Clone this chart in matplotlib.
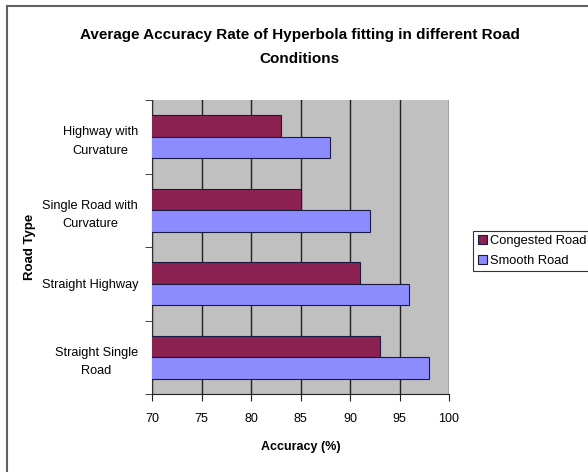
import numpy as np
import matplotlib.pyplot as plt
from matplotlib.lines import Line2D

# === Data
road_types = ['Highway with\nCurvature', 'Single Road with\nCurvature',
              'Straight Highway', 'Straight Single\nRoad']
congested = [83, 85, 91, 93]
smooth = [88, 92, 96, 98]
x_ticks = [70, 75, 80, 85, 90, 95, 100]

plt.rcParams['font.family'] = ['Liberation Sans', 'DejaVu Sans']

fig = plt.figure(figsize=(5.88, 4.72), dpi=100)
W, H = 588, 472

# === Frame lines (left and top only, like the scanned figure)
fig.add_artist(Line2D([7 / W, 7 / W], [0, 1 - 6 / H], color='#606060', lw=1.5))
fig.add_artist(Line2D([7 / W, 1], [1 - 6 / H, 1 - 6 / H], color='#606060', lw=1.5))

ax = fig.add_axes([152 / W, 1 - 394 / H, 297 / W, 294 / H])

y = np.arange(len(road_types))
h = 0.29
ax.barh(y - h / 2, congested, height=h, color='#8B2252',
        edgecolor='#1a1a40', linewidth=0.8, label='Congested Road', zorder=3)
ax.barh(y + h / 2, smooth, height=h, color='#8C8CFF',
        edgecolor='#1a1a40', linewidth=0.8, label='Smooth Road', zorder=3)

ax.set_xlim(70, 100)
ax.set_ylim(3.5, -0.5)
ax.set_facecolor('#C0C0C0')
ax.set_xticks(x_ticks)
ax.set_xticklabels([str(t) for t in x_ticks], fontsize=9)
ax.xaxis.grid(True, color='#202020', linewidth=1, zorder=1)
ax.set_yticks(y)
ax.set_yticklabels(road_types, fontsize=9.2, ha='right', multialignment='center',
                   linespacing=1.7)
ax.tick_params(axis='y', which='major', length=0, pad=10)
ax.tick_params(axis='x', length=5, pad=9, color='#202020')
ax.set_yticks(np.arange(-0.5, 4, 1), minor=True)
ax.tick_params(axis='y', which='minor', length=5, color='#202020')
for s in ['top', 'right']:
    ax.spines[s].set_visible(False)
ax.spines['left'].set_color('#303030')
ax.spines['bottom'].set_color('#202020')

ax.set_xlabel('Accuracy (%)', fontsize=9, fontweight='bold', labelpad=11)
fig.text(30 / W, 1 - 247 / H, 'Road Type', rotation=90, fontsize=9.5,
         fontweight='bold', ha='center', va='center')
fig.text(0.51, 1 - 47 / H,
         'Average Accuracy Rate of Hyperbola fitting in different Road\nConditions',
         fontsize=11, fontweight='bold', ha='center', va='center', linespacing=1.9)

leg = ax.legend(loc='center left', bbox_to_anchor=((473 - 152) / 297, (394 - 251) / 294),
                fontsize=9.3, frameon=True, fancybox=False, edgecolor='black',
                handlelength=0.7, handleheight=0.7, handletextpad=0.3,
                borderpad=0.35, labelspacing=0.55, borderaxespad=0)
leg.get_frame().set_linewidth(0.8)

plt.savefig('out.png', dpi=100)
plt.close()
